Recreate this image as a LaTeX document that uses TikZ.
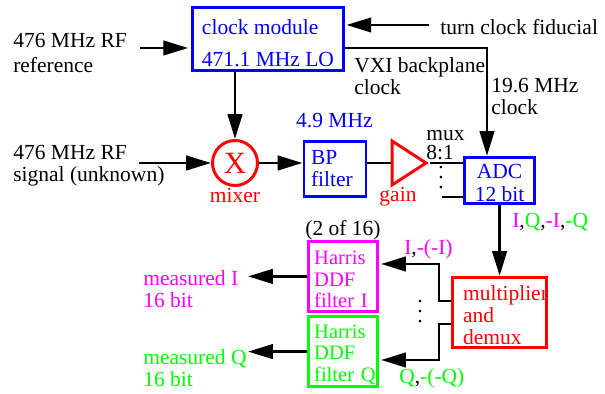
\documentclass[tikz,border=0pt]{standalone}
\usepackage{fontspec}
\setmainfont{Liberation Serif}
\definecolor{boxblue}{RGB}{0, 0, 255}
\definecolor{boxred}{RGB}{255, 0, 0}
\definecolor{chanI}{RGB}{255, 0, 255}
\definecolor{chanQ}{RGB}{0, 255, 0}
\usetikzlibrary{shapes.geometric, arrows.meta, positioning, calc}
\newcommand{\toppad}[1]{\rule{0pt}{#1}}
\tikzset{
  txt/.style={font=\fontsize{15.3}{15.7}\selectfont, inner sep=0pt, align=left},
  labelw/.style={txt, anchor=west},
  dotstack/.style={inner sep=0pt, align=center, font=\fontsize{15.3}{7.1}\selectfont},
  blockbox/.style={draw, line width=2.1pt, align=left, inner sep=0pt, font=\fontsize{15.3}{15.7}\selectfont},
  ddfbox/.style={blockbox, text width=1.44cm, inner xsep=0.14cm, minimum height=1.75cm, font=\fontsize{14.6}{15.4}\selectfont},
  sigline/.style={line width=2.1pt},
  sigarrow/.style={sigline, -{Triangle[length=0.62cm, width=0.36cm]}},
}
\begin{document}
\begin{tikzpicture}
  \useasboundingbox (0, 0) rectangle (15.125, 9.85);

  % Blocks
  \node[blockbox, draw=boxblue, text=boxblue, minimum width=3.775cm, minimum height=1.575cm, font=\fontsize{15.3}{22.8}\selectfont] (clockmod) at (6.7, 8.875) {\toppad{17pt}clock module\\471.1 MHz LO};
  \node[draw=boxred, text=boxred, line width=2.1pt, circle, minimum size=1.125cm, inner sep=0pt, font=\fontsize{22}{24}\selectfont] (mixer) at (5.875, 5.775) {X};
  \node[blockbox, draw=boxblue, text=boxblue, text width=1.2cm, inner xsep=0.175cm, minimum height=1.375cm] (bpfilter) at (8.375, 5.625) {BP\\filter};
  \node[draw=boxred, line width=2.1pt, isosceles triangle, isosceles triangle stretches, minimum width=1.1cm, minimum height=0.85cm, inner sep=0pt] (gain) at (10.1, 5.775) {};
  \node[blockbox, draw=boxblue, text=boxblue, minimum width=1.75cm, minimum height=1.15cm, align=center, font=\fontsize{15.3}{16.4}\selectfont] (adc) at (12.49, 5.34) {\toppad{14pt}ADC\\12 bit};
  \node[blockbox, draw=boxred, text=boxred, text width=1.825cm, inner xsep=0.2625cm, minimum height=1.75cm] (mult) at (12.49, 2.04) {\toppad{14pt}\mbox{multiplier}\\and\\demux};
  \node[ddfbox, draw=chanI, text=chanI] (harrisi) at (8.575, 2.94) {\toppad{14pt}Harris\\DDF\\filter~I};
  \node[ddfbox, draw=chanQ, text=chanQ] (harrisq) at (8.575, 1.06) {\toppad{14pt}Harris\\DDF\\filter~Q};

  % Labels
  \node[labelw] (reflabel) at (0.325, 8.525) {476 MHz RF\\[2.7pt]reference};
  \node[labelw] (siglabel) at (0.325, 5.7) {476 MHz RF\\signal (unknown)};
  \node[labelw] (fidlabel) at (11.0, 9.175) {turn clock fiducial};
  \node[labelw] (vxilabel) at (8.85, 7.94) {VXI backplane\\clock};
  \node[labelw] (clklabel) at (12.275, 7.44) {19.6 MHz\\clock};
  \node[txt, text=boxblue] (freqlabel) at (8.36, 6.825) {4.9 MHz};
  \node[labelw, font=\fontsize{15.3}{13}\selectfont] (muxlabel) at (10.65, 6.225) {mux\\8:1};
  \node[txt, text=boxred] (mixerlabel) at (5.875, 4.975) {mixer};
  \node[txt, text=boxred] (gainlabel) at (9.95, 4.925) {gain};
  \node[txt] (countlabel) at (8.575, 4.1) {(2 of 16)};
  \node[labelw] (iqlabel) at (12.8, 4.3) {\textcolor{chanI}{I},\textcolor{chanQ}{Q},\textcolor{chanI}{-I},\textcolor{chanQ}{-Q}};
  \node[labelw, text=chanI] (ilabel) at (10.1, 3.625) {I\textcolor{black}{,}-(-I)};
  \node[labelw, text=chanQ] (qlabel) at (9.975, 0.4) {Q\textcolor{black}{,}-(-Q)};
  \node[labelw, text=chanI] (measi) at (3.575, 2.6125) {measured I\\16 bit};
  \node[labelw, text=chanQ] (measq) at (3.575, 0.6375) {measured Q\\16 bit};
  \node[dotstack] (muxdots) at (11.025, 5.4) {.\\.\\.};
  \node[dotstack] (demuxdots) at (10.5, 2.05) {.\\.\\.};

  % Free ends
  \coordinate (refin) at (3.5, 8.65);
  \coordinate (sigin) at (3.475, 5.775);
  \coordinate (fidin) at (10.725, 9.225);
  \coordinate (vxibend) at (12.175, 8.65);
  \coordinate (muxin) at (11.05, 4.925);
  \coordinate (ibend) at (10.975, 2.325);
  \coordinate (qbend) at (10.975, 1.75);
  \coordinate (iin) at (9.525, 3.25);
  \coordinate (qin) at (9.525, 0.85);
  \coordinate (iout) at (6.2, 2.94);
  \coordinate (qout) at (6.2, 1.06);

  % Connectors
  \draw[sigarrow, shorten >=2pt] (refin) -- (clockmod.west |- refin);
  \draw[sigarrow, shorten >=1pt] (fidin) -- (clockmod.east |- fidin);
  \draw[sigarrow] (mixer.north |- clockmod.south) -- (mixer.north);
  \draw[sigarrow] (sigin) -- (mixer.west);
  \draw[sigarrow] (mixer.east) -- (bpfilter.west |- mixer);
  \draw[sigline] (bpfilter.east |- gain) -- (gain.left corner |- gain);
  \draw[sigline] (gain.apex) -- (adc.west |- gain);
  \draw[sigline] (muxin) -- (adc.west |- muxin);
  \draw[sigarrow] (clockmod.east |- vxibend) -- (vxibend) -- (vxibend |- adc.north);
  \draw[sigarrow] (adc.south) -- (mult.north);
  \draw[sigarrow] (mult.west |- ibend) -- (ibend) |- (iin);
  \draw[sigarrow] (mult.west |- qbend) -- (qbend) |- (qin);
  \draw[sigarrow] (harrisi.west) -- (iout);
  \draw[sigarrow] (harrisq.west) -- (qout);
\end{tikzpicture}
\end{document}
